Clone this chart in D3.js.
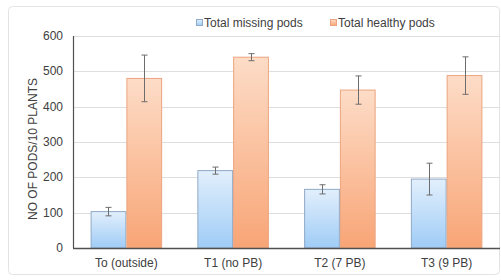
<!DOCTYPE html>
<html>
<head>
<meta charset="utf-8">
<script src="https://cdn.jsdelivr.net/npm/d3@7"></script>
<style>
  body { margin: 0; background: #fff; }
  text { font-family: "Liberation Sans", Arial, sans-serif; fill: #404040; }
</style>
</head>
<body>
<svg id="chart" width="501" height="280"></svg>
<script>
// datos del grafico
const categories = ["To (outside)", "T1 (no PB)", "T2 (7 PB)", "T3 (9 PB)"];
const seriesNames = ["Total missing pods", "Total healthy pods"];
const missing = [103, 219, 166, 195];
const missingErr = [12, 10, 13, 45];
const healthy = [480, 540, 447, 488];
const healthyErr = [66, 10, 40, 53];
const yTicks = [0, 100, 200, 300, 400, 500, 600];

const svg = d3.select("#chart");
const margin = { left: 73, right: 1, top: 36, bottom: 32 };
const W = 501, H = 280;

// borde exterior
svg.append("rect")
    .attr("x", 8.5).attr("y", 6.5)
    .attr("width", 491).attr("height", 268)
    .attr("rx", 4)
    .attr("fill", "#fff")
    .attr("stroke", "#e3e3e3");

// gradientes
const defs = svg.append("defs");
function grad(id, top, bottom) {
    const g = defs.append("linearGradient").attr("id", id)
        .attr("x1", 0).attr("y1", 0).attr("x2", 0).attr("y2", 1);
    g.append("stop").attr("offset", "0%").attr("stop-color", top);
    g.append("stop").attr("offset", "100%").attr("stop-color", bottom);
}
grad("gBlue", "#e2effc", "#9fccf6");
grad("gOrange", "#fddcc7", "#f8a576");

const x = d3.scaleBand().domain(categories)
    .range([margin.left, W - margin.right])
    .paddingInner(0.33).paddingOuter(0.165);
const x1 = d3.scaleBand().domain(seriesNames).range([0, x.bandwidth()]);
const y = d3.scaleLinear().domain([0, 600]).range([H - margin.bottom, margin.top]);

// lineas de la cuadricula
svg.append("g").selectAll("line").data(yTicks.slice(1)).enter().append("line")
    .attr("x1", margin.left).attr("x2", W - margin.right)
    .attr("y1", d => Math.round(y(d)) + 0.5).attr("y2", d => Math.round(y(d)) + 0.5)
    .attr("stroke", "#dedede");

// etiquetas del eje y
svg.append("g").selectAll("text").data(yTicks).enter().append("text")
    .attr("x", 63).attr("y", d => y(d) + 4)
    .attr("text-anchor", "end")
    .attr("font-size", 12)
    .text(d => d);

// titulo del eje y
svg.append("text")
    .attr("transform", "translate(37,149) rotate(-90)")
    .attr("text-anchor", "middle")
    .attr("font-size", 12)
    .text("NO OF PODS/10 PLANTS");

// barras
const series = [
    { name: seriesNames[0], values: missing, err: missingErr, fill: "url(#gBlue)", stroke: "#8fa9c6" },
    { name: seriesNames[1], values: healthy, err: healthyErr, fill: "url(#gOrange)", stroke: "#eba47f" }
];

series.forEach(function (s) {
    const g = svg.append("g");
    g.selectAll("rect").data(categories).enter().append("rect")
        .attr("x", (c) => x(c) + x1(s.name) + 0.5)
        .attr("y", (c, i) => y(s.values[i]))
        .attr("width", x1.bandwidth() - 1)
        .attr("height", (c, i) => y(0) - y(s.values[i]))
        .attr("fill", s.fill)
        .attr("stroke", s.stroke);

    // barras de error
    categories.forEach(function (c, i) {
        const cx = Math.round(x(c) + x1(s.name) + x1.bandwidth() / 2) + 0.5;
        const hi = y(s.values[i] + s.err[i]);
        const lo = y(s.values[i] - s.err[i]);
        g.append("line").attr("x1", cx).attr("x2", cx).attr("y1", hi).attr("y2", lo)
            .attr("stroke", "#6d6d6d");
        [hi, lo].forEach(function (yy) {
            g.append("line").attr("x1", cx - 3).attr("x2", cx + 3).attr("y1", yy).attr("y2", yy)
                .attr("stroke", "#6d6d6d");
        });
    });
});

// ejes
svg.append("line")
    .attr("x1", margin.left + 0.5).attr("x2", margin.left + 0.5)
    .attr("y1", y(600)).attr("y2", y(0))
    .attr("stroke", "#505050").attr("stroke-width", 1.2);
svg.append("line")
    .attr("x1", margin.left).attr("x2", W - margin.right)
    .attr("y1", y(0) + 0.5).attr("y2", y(0) + 0.5)
    .attr("stroke", "#505050").attr("stroke-width", 1.5);

// etiquetas del eje x
svg.append("g").selectAll("text").data(categories).enter().append("text")
    .attr("x", c => x(c) + x.bandwidth() / 2)
    .attr("y", 267)
    .attr("text-anchor", "middle")
    .attr("font-size", 12)
    .text(c => c);

// leyenda
const legendX = [196, 330];
series.forEach(function (s, i) {
    svg.append("rect")
        .attr("x", legendX[i] + 0.5).attr("y", 19.5)
        .attr("width", 6).attr("height", 6)
        .attr("fill", s.fill).attr("stroke", s.stroke);
    svg.append("text")
        .attr("x", legendX[i] + 8).attr("y", 27)
        .attr("font-size", 12)
        .text(s.name);
});
</script>
</body>
</html>
